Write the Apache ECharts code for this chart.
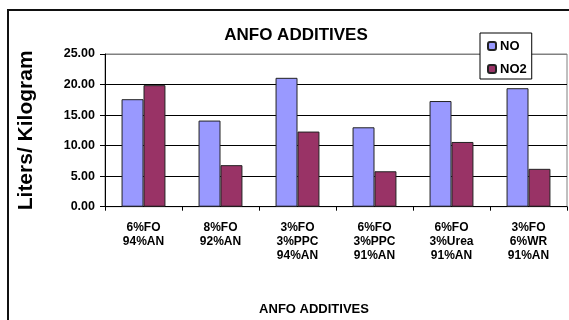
<!DOCTYPE html>
<html>
<head>
<meta charset="utf-8">
<script src="https://cdn.jsdelivr.net/npm/echarts@6/dist/echarts.min.js"></script>
<style>
html,body{margin:0;padding:0;background:#fff;}
#c{width:569px;height:320px;}
</style>
</head>
<body>
<div id="c"></div>
<script>
var categories = ['6%FO\n94%AN', '8%FO\n92%AN', '3%FO\n3%PPC\n94%AN', '6%FO\n3%PPC\n91%AN', '6%FO\n3%Urea\n91%AN', '3%FO\n6%WR\n91%AN'];
var seriesNames = ['NO', 'NO2'];
var noValues = [17.6, 14.1, 21.1, 13.0, 17.3, 19.4];
var no2Values = [19.9, 6.8, 12.3, 5.8, 10.6, 6.2];
var yMin = 0, yMax = 25, yStep = 5;
var chartTitle = 'ANFO ADDITIVES';
var xTitle = 'ANFO ADDITIVES';
var yTitle = 'Liters/ Kilogram';

var FONT = '"Liberation Sans", Arial, sans-serif';
var chart = echarts.init(document.getElementById('c'), null, {renderer: 'canvas'});
chart.setOption({
  animation: false,
  backgroundColor: '#fff',
  title: [
    {text: chartTitle, left: 291, top: 22, textAlign: 'center',
     textStyle: {fontFamily: FONT, fontWeight: 'bold', fontSize: 17, color: '#000'}},
    {text: xTitle, left: 309, top: 298, textAlign: 'center',
     textStyle: {fontFamily: FONT, fontWeight: 'bold', fontSize: 13, color: '#000'}}
  ],
  legend: {
    orient: 'vertical', left: 480, top: 33,
    padding: [5, 5, 2, 7],
    itemWidth: 8, itemHeight: 8, itemGap: 7,
    backgroundColor: '#fff', borderColor: '#000', borderWidth: 1,
    textStyle: {fontFamily: FONT, fontWeight: 'bold', fontSize: 13, color: '#000', lineHeight: 16, padding: [0, 0, 0, -1]},
    data: seriesNames
  },
  grid: {left: 105, top: 54, width: 462, height: 152.7, show: true, borderColor: '#808080', borderWidth: 1, backgroundColor: '#fff'},
  xAxis: {
    type: 'category', data: categories,
    axisLine: {lineStyle: {color: '#000', width: 1}},
    axisTick: {show: true, length: 4, lineStyle: {color: '#000'}},
    axisLabel: {fontFamily: FONT, fontWeight: 'bold', fontSize: 12, color: '#000', lineHeight: 14, margin: 14, interval: 0}
  },
  yAxis: {
    type: 'value', min: yMin, max: yMax, interval: yStep,
    name: yTitle, nameLocation: 'middle', nameGap: 68, nameRotate: 90,
    nameTextStyle: {fontFamily: FONT, fontWeight: 'bold', fontSize: 21, color: '#000'},
    axisLine: {show: true, lineStyle: {color: '#000', width: 1}},
    axisTick: {show: true, length: 5, lineStyle: {color: '#000'}},
    axisLabel: {fontFamily: FONT, fontWeight: 'bold', fontSize: 12.5, color: '#000', margin: 10,
      formatter: function (v) { return v.toFixed(2); }},
    splitLine: {show: true, lineStyle: {color: ['#000', '#000', '#000', '#000', '#000', '#808080'], width: 1}}
  },
  graphic: [
    {type: 'rect', z: 100, silent: true, shape: {x: 8, y: 10, width: 700, height: 400},
     style: {fill: 'none', stroke: '#111', lineWidth: 2}}
  ],
  series: [
    {name: seriesNames[0], type: 'bar', data: noValues, barGap: '0%', barCategoryGap: '43%',
     itemStyle: {color: '#9999FF', borderColor: '#222', borderWidth: 1}},
    {name: seriesNames[1], type: 'bar', data: no2Values, barGap: '0%', barCategoryGap: '43%',
     itemStyle: {color: '#993366', borderColor: '#222', borderWidth: 1}}
  ]
});
</script>
</body>
</html>
